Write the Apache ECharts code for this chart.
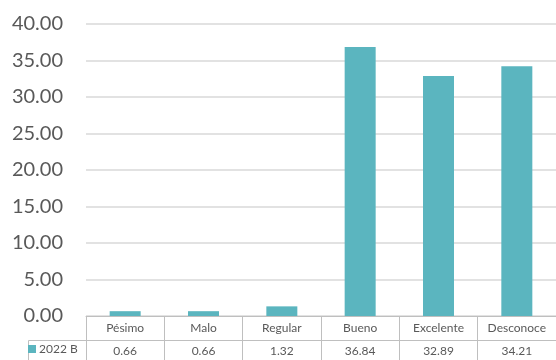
<!DOCTYPE html>
<html><head><meta charset="utf-8">
<script src="https://cdn.jsdelivr.net/npm/echarts@6/dist/echarts.min.js"></script>
<style>html,body{margin:0;padding:0;background:#fff}#c{width:556px;height:360px}</style>
</head><body><div id="c"></div>
<script>
const categories = ['Pésimo','Malo','Regular','Bueno','Excelente','Desconoce'];
const seriesName = '2022 B';
const values = [0.66, 0.66, 1.32, 36.84, 32.89, 34.21];
const yTicks = [0,5,10,15,20,25,30,35,40];

const FONT = 'Lato, "Open Sans", sans-serif';
const BORDER = '#bfbfbf';
const chart = echarts.init(document.getElementById('c'), null, {renderer:'canvas'});
chart.setOption({
  animation:false,
  textStyle:{fontFamily:FONT},
  grid:{left:86, top:24, width:471, height:292, containLabel:false},
  legend:{
    data:[seriesName], left:28, top:343, icon:'rect', itemWidth:8, itemHeight:8, itemGap:4,
    textStyle:{fontSize:12, color:'#595959', fontFamily:FONT, padding:[0,0,0,-2]}, padding:0
  },
  xAxis:[{
    type:'category', data:categories, position:'bottom',
    axisLine:{show:true, lineStyle:{color:BORDER, width:1}},
    axisTick:{show:true, length:44, lineStyle:{color:BORDER, width:1}, interval:0},
    axisLabel:{fontSize:12, color:'#595959', margin:6, interval:0, fontFamily:FONT}
  },{
    type:'category', data:categories, position:'bottom', offset:24,
    axisLine:{show:true, lineStyle:{color:BORDER, width:1}},
    axisTick:{show:false},
    axisLabel:{fontSize:12, color:'#595959', margin:5, interval:0, fontFamily:FONT,
      formatter:(v,i)=>values[i].toFixed(2)}
  }],
  yAxis:{
    type:'value', min:yTicks[0], max:yTicks[yTicks.length-1], interval:5,
    axisLine:{show:false}, axisTick:{show:false},
    splitLine:{lineStyle:{color:'#d9d9d9', width:1.5}},
    axisLabel:{fontSize:20, color:'#595959', margin:23, fontFamily:FONT, formatter:v=>v.toFixed(2)}
  },
  series:[{
    name:seriesName, type:'bar', data:values, barWidth:31, xAxisIndex:0,
    itemStyle:{color:'#5bb5bf'}
  }],
  graphic:[
    {type:'line', shape:{x1:28.5,y1:340.5,x2:86,y2:340.5}, style:{stroke:BORDER, lineWidth:1}},
    {type:'line', shape:{x1:28.5,y1:340.5,x2:28.5,y2:360}, style:{stroke:BORDER, lineWidth:1}}
  ]
});
</script></body></html>
